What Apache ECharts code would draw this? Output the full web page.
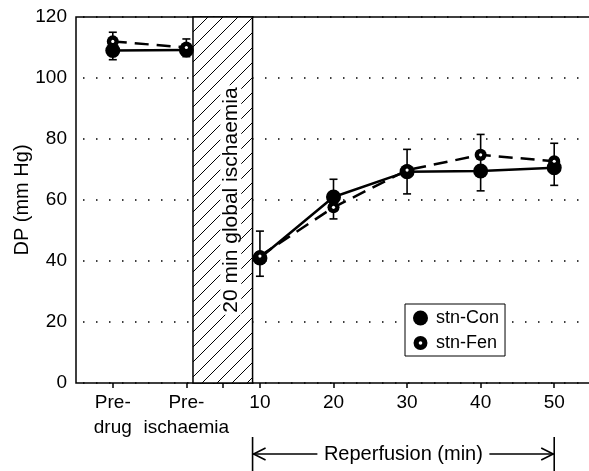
<!DOCTYPE html>
<html>
<head>
<meta charset="utf-8">
<script src="https://cdn.jsdelivr.net/npm/echarts@6/dist/echarts.min.js"></script>
<style>
  html, body { margin: 0; padding: 0; background: #fff; }
  #main { width: 589px; height: 471px; }
</style>
</head>
<body>
<div id="main"></div>
<script>
// data
var xPos = [0, 1, 2, 3, 4, 5, 6];
var xLabels = ['Pre-\ndrug', 'Pre-\nischaemia', '10', '20', '30', '40', '50'];
var xTicks = [0, 1, 1.5, 2, 3, 4, 5, 6];
var stnCon = [109, 109.2, 41, 61, 69.3, 69.5, 70.6];
var stnFen = [112, 110, 41.6, 57.6, 69.8, 74.8, 72.7];
var errLow = [106, 107, 35, 53.8, 62, 63, 64.8];
var errHigh = [115, 112.8, 49.8, 66.8, 76.6, 81.5, 78.6];
var ischaemiaBand = [1.09, 1.9];

var fontFamily = "'Liberation Sans', Arial, sans-serif";

// hatch pattern for the ischaemia band
function hatch() {
  var c = document.createElement('canvas');
  c.width = 15; c.height = 15;
  var ctx = c.getContext('2d');
  ctx.fillStyle = '#fff';
  ctx.fillRect(0, 0, 15, 15);
  ctx.strokeStyle = '#000';
  ctx.lineWidth = 1;
  ctx.beginPath();
  ctx.moveTo(0, 15); ctx.lineTo(15, 0);
  ctx.moveTo(-2, 2); ctx.lineTo(2, -2);
  ctx.moveTo(13, 17); ctx.lineTo(17, 13);
  ctx.stroke();
  return c;
}

// join points, break the line across the ischaemia gap
function pts(vals) {
  var out = [];
  vals.forEach(function (v, i) {
    if (i === 2) { out.push([1.5, '-']); }
    out.push([xPos[i], v]);
  });
  return out;
}

// black disc with a small white centre (stn-Fen marker)
var fenIcon = 'image://data:image/svg+xml;charset=utf-8,' + encodeURIComponent(
  "<svg xmlns='http://www.w3.org/2000/svg' width='28' height='28' viewBox='0 0 28 28'>" +
  "<circle cx='14' cy='14' r='13' fill='black'/><circle cx='14' cy='14' r='3.4' fill='white'/></svg>");

var chart = echarts.init(document.getElementById('main'), null, {renderer: 'canvas'});
var option = {
  animation: false,
  textStyle: {fontFamily: fontFamily},
  grid: {
    left: 76, right: -2, top: 17, bottom: 88,
    outerBoundsMode: 'none',
    show: true, borderColor: '#000', borderWidth: 1.5
  },
  legend: {
    left: 405, top: 304,
    orient: 'vertical',
    backgroundColor: '#fff',
    borderColor: '#000', borderWidth: 1,
    padding: [5, 6, 4, 8],
    itemGap: 7,
    itemWidth: 15, itemHeight: 15,
    textStyle: {fontSize: 18, color: '#000', fontFamily: fontFamily, padding: [0, 0, 0, 3]},
    data: [
      {name: 'stn-Con', icon: 'circle'},
      {name: 'stn-Fen', icon: fenIcon}
    ]
  },
  xAxis: {
    type: 'value',
    min: -0.5, max: 6.5,
    axisLine: {show: false},
    splitLine: {show: false},
    axisTick: {
      show: true, customValues: xTicks, length: 5,
      lineStyle: {color: '#000', width: 1.5}
    },
    axisLabel: {
      customValues: xPos,
      color: '#000', fontSize: 19, lineHeight: 25, margin: 7,
      fontFamily: fontFamily,
      formatter: function (v) { return xLabels[xPos.indexOf(v)]; }
    }
  },
  yAxis: {
    type: 'value',
    min: 0, max: 120, interval: 20,
    name: 'DP (mm Hg)',
    nameLocation: 'middle',
    nameGap: 44,
    nameRotate: 90,
    nameMoveOverlap: false,
    nameTextStyle: {fontSize: 20, color: '#000', fontFamily: fontFamily},
    axisLine: {show: false},
    axisTick: {show: false},
    axisLabel: {color: '#000', fontSize: 19, margin: 9, fontFamily: fontFamily},
    splitLine: {lineStyle: {color: '#000', width: 1.5, type: [1.5, 11.5], dashOffset: -7}}
  },
  series: [
    {
      name: 'err',
      type: 'custom',
      silent: true,
      z: 2,
      data: xPos.map(function (x, i) { return [x, errLow[i], errHigh[i]]; }),
      encode: {x: 0, y: [1, 2]},
      renderItem: function (params, api) {
        var lo = api.coord([api.value(0), api.value(1)]);
        var hi = api.coord([api.value(0), api.value(2)]);
        var w = 4;
        var st = {stroke: '#000', lineWidth: 1.6};
        return {
          type: 'group',
          children: [
            {type: 'line', shape: {x1: lo[0], y1: lo[1], x2: hi[0], y2: hi[1]}, style: st},
            {type: 'line', shape: {x1: lo[0] - w, y1: lo[1], x2: lo[0] + w, y2: lo[1]}, style: st},
            {type: 'line', shape: {x1: hi[0] - w, y1: hi[1], x2: hi[0] + w, y2: hi[1]}, style: st}
          ]
        };
      },
      markArea: {
        silent: true,
        itemStyle: {
          color: {image: hatch(), repeat: 'repeat'},
          borderColor: '#000', borderWidth: 1.5
        },
        label: {
          show: true,
          position: 'inside',
          rotate: 90,
          offset: [0, 8],
          formatter: '20 min global ischaemia',
          fontSize: 21, color: '#000', fontFamily: fontFamily,
          backgroundColor: '#fff',
          padding: [0, 2]
        },
        data: [[{xAxis: ischaemiaBand[0], yAxis: 0}, {xAxis: ischaemiaBand[1], yAxis: 120}]]
      }
    },
    {
      name: 'stn-Con',
      type: 'line',
      z: 3,
      data: pts(stnCon),
      symbol: 'circle',
      symbolSize: 15,
      itemStyle: {color: '#000'},
      lineStyle: {color: '#000', width: 2.5}
    },
    {
      name: 'stn-Fen',
      type: 'line',
      z: 4,
      data: pts(stnFen),
      symbol: fenIcon,
      symbolSize: 13,
      itemStyle: {color: '#000'},
      lineStyle: {color: '#000', width: 2.5, type: [14, 8]}
    }
  ]
};
chart.setOption(option);

// Reperfusion bracket under the axis
var xa = chart.convertToPixel({xAxisIndex: 0}, ischaemiaBand[1]);
var xb = chart.convertToPixel({xAxisIndex: 0}, xPos[6]);
var yArrow = 454;
var mid = (xa + xb) / 2;
var half = 86;
var ln = {stroke: '#000', lineWidth: 1.6, fill: null};
chart.setOption({
  graphic: [
    {type: 'line', shape: {x1: xa, y1: 437, x2: xa, y2: 471}, style: ln},
    {type: 'line', shape: {x1: xb, y1: 437, x2: xb, y2: 471}, style: ln},
    {type: 'line', shape: {x1: xa, y1: yArrow, x2: mid - half, y2: yArrow}, style: ln},
    {type: 'line', shape: {x1: mid + half, y1: yArrow, x2: xb, y2: yArrow}, style: ln},
    {type: 'polyline', shape: {points: [[xa + 13, yArrow - 6], [xa + 1, yArrow], [xa + 13, yArrow + 6]]}, style: ln},
    {type: 'polyline', shape: {points: [[xb - 13, yArrow - 6], [xb - 1, yArrow], [xb - 13, yArrow + 6]]}, style: ln},
    {
      type: 'text', x: mid, y: yArrow,
      style: {
        text: 'Reperfusion (min)', fontSize: 20, fill: '#000',
        fontFamily: fontFamily, align: 'center', verticalAlign: 'middle'
      }
    }
  ]
});
</script>
</body>
</html>
